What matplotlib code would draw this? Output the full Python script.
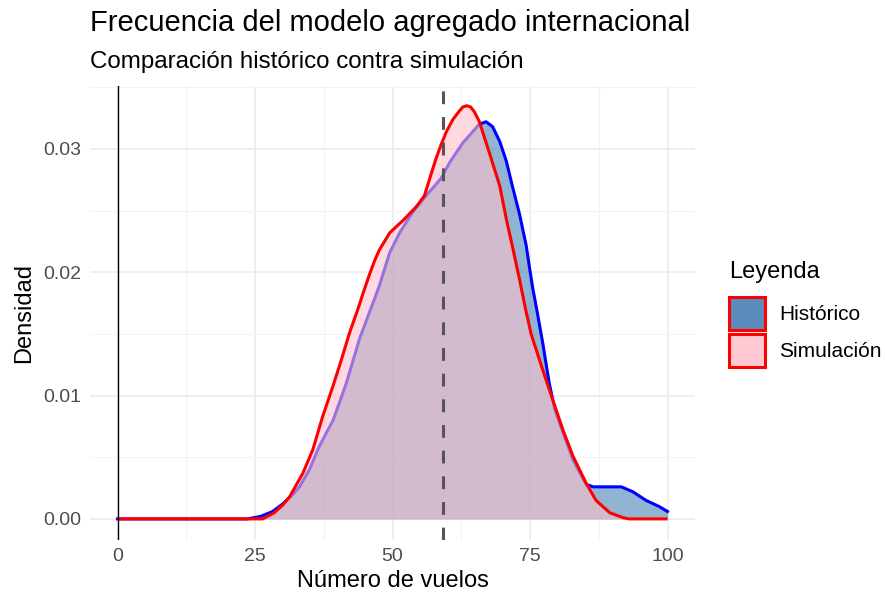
import matplotlib
matplotlib.use("Agg")
import matplotlib.pyplot as plt
from matplotlib.patches import Patch
import numpy as np

plt.rcParams['font.family'] = ['Liberation Sans', 'DejaVu Sans']

# densidad historica (curva azul)
hist_x = [0, 23.6, 26.0, 28.2, 30.0, 31.9, 33.1, 34.9, 36.7, 39.2, 41.6, 44.0, 46.7, 47.6,
          49.5, 51.3, 53.7, 56.3, 58.8, 60.4, 62.8, 65.8, 67.0, 68.2, 69.5, 70.7, 71.9,
          73.1, 74.3, 74.9, 75.5, 76.3, 77.3, 78.5, 79.5, 81.0, 82.8, 85.2, 86.5, 87.6,
          91.6, 93.7, 96.1, 98.5, 100.0]
hist_y = [0, 0, 0.0002, 0.0006, 0.0012, 0.0020, 0.0026, 0.0040, 0.0059, 0.0080, 0.0110,
          0.0146, 0.0178, 0.0189, 0.0216, 0.0232, 0.0249, 0.0263, 0.0276, 0.0289, 0.0305,
          0.0320, 0.0322, 0.0318, 0.0306, 0.0290, 0.0268, 0.0247, 0.0222, 0.0204, 0.0187,
          0.0168, 0.0143, 0.0110, 0.0089, 0.0070, 0.0048, 0.0028, 0.0026, 0.0026, 0.0026,
          0.0022, 0.0015, 0.0010, 0.0006]

# densidad simulada (curva roja)
sim_x = [0, 26.4, 28.5, 30.0, 31.3, 33.7, 35.5, 37.3, 39.2, 40.7, 42.2, 43.7, 44.8, 45.8,
         46.8, 47.6, 49.5, 51.9, 54.3, 55.8, 56.7, 57.9, 58.8, 59.8, 61.0, 62.2, 62.8,
         63.5, 64.2, 64.9, 65.8, 67.6, 69.5, 70.7, 71.9, 73.1, 74.2, 75.2, 77.3, 79.1,
         81.0, 82.8, 85.2, 87.0, 89.5, 91.9, 93.0, 100.0]
sim_y = [0, 0, 0.0005, 0.0011, 0.0018, 0.0037, 0.0056, 0.0083, 0.0108, 0.0129, 0.0151,
         0.0170, 0.0185, 0.0198, 0.0210, 0.0218, 0.0232, 0.0242, 0.0253, 0.0262, 0.0275,
         0.0292, 0.0303, 0.0314, 0.0324, 0.0331, 0.0334, 0.0335, 0.0334, 0.0330, 0.0322,
         0.0297, 0.0270, 0.0243, 0.0219, 0.0194, 0.0170, 0.0150, 0.0121, 0.0097, 0.0072,
         0.0051, 0.0029, 0.0015, 0.0005, 0.0001, 0, 0]

media = 59.2
x_ticks = [0, 25, 50, 75, 100]
y_ticks = [0.00, 0.01, 0.02, 0.03]
etiquetas = ['Histórico', 'Simulación']

fig = plt.figure(figsize=(8.85, 6), dpi=100)
ax = fig.add_axes([90 / 885, 60.5 / 600, 605 / 885, 453.5 / 600])

ax.fill_between(hist_x, hist_y, color='steelblue', alpha=0.6, lw=0, zorder=2)
ax.plot(hist_x, hist_y, color='blue', lw=2.2, zorder=2)
ax.fill_between(sim_x, sim_y, color='pink', alpha=0.6, lw=0, zorder=3)
ax.plot(sim_x, sim_y, color='red', lw=2.2, zorder=4, solid_capstyle='butt')

ax.axvline(0, color='black', lw=1.0, zorder=5)
ax.axvline(media, color='#555555', lw=2.2, ls=(0, (4.2, 4.2)), zorder=5)

ax.set_xlim(-5, 105)
ax.set_ylim(-0.00167, 0.0351)
ax.set_xticks(x_ticks)
ax.set_xticklabels([str(t) for t in x_ticks])
ax.set_yticks(y_ticks)
ax.set_yticklabels(['%.2f' % t for t in y_ticks])
ax.set_xticks([12.5, 37.5, 62.5, 87.5], minor=True)
ax.set_yticks([0.005, 0.015, 0.025, 0.035], minor=True)
ax.grid(which='major', color='#EBEBEB', lw=1.2, zorder=0)
ax.grid(which='minor', color='#F2F2F2', lw=0.8, zorder=0)
ax.set_axisbelow(True)
for s in ax.spines.values():
    s.set_visible(False)
ax.tick_params(which='both', length=0, labelsize=14, labelcolor='#4D4D4D', pad=6)

ax.set_xlabel('Número de vuelos', fontsize=17, color='black', labelpad=4)
ax.set_ylabel('Densidad', fontsize=17, color='black', labelpad=6)

fig.text(90 / 885, 1 - 23 / 600, 'Frecuencia del modelo agregado internacional',
         fontsize=21, color='black', va='center', ha='left')
fig.text(90 / 885, 1 - 62 / 600, 'Comparación histórico contra simulación',
         fontsize=17.4, color='black', va='center', ha='left')

handles = [Patch(facecolor='#5A8CBE', edgecolor='red', lw=2.2),
           Patch(facecolor='#FFC8D2', edgecolor='red', lw=2.2)]
leg = ax.legend(handles, etiquetas, title='Leyenda', loc='upper left',
                bbox_to_anchor=(729 / 885, 1 - 261 / 600), bbox_transform=fig.transFigure,
                frameon=False, fontsize=15, title_fontsize=17, handlelength=1.75,
                handleheight=2.05, handletextpad=0.65, labelspacing=0.2, borderaxespad=0,
                borderpad=0)
leg._legend_box.align = 'left'
leg._legend_box.sep = 10

fig.savefig('out.png', dpi=100)
